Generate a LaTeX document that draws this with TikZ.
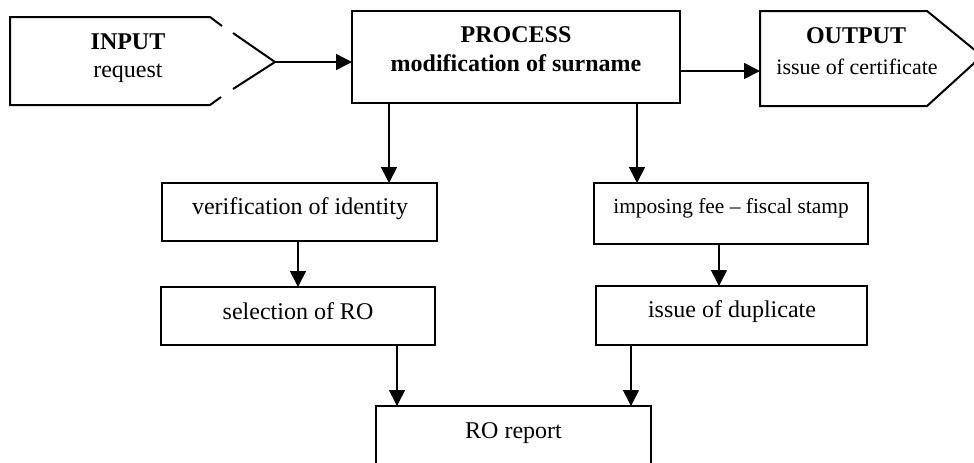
\documentclass[tikz,border=0pt]{standalone}
\usepackage{fontspec}
\setmainfont{Liberation Serif}
\usetikzlibrary{arrows.meta}
\begin{document}
\begin{tikzpicture}[x=0.5pt,y=-0.5pt,
  font=\fontsize{12}{14.5}\selectfont,
  box/.style={draw,line width=1pt,inner sep=0pt,outer sep=0pt,rectangle},
  txt/.style={anchor=base,inner sep=0pt},
  arr/.style={line width=0.8pt,-{Triangle[width=8pt,length=8pt]}},
  outline/.style={line width=1pt,line join=miter}]
\useasboundingbox (0,0) rectangle (974,462);
\clip (0,0) rectangle (974,462);
% INPUT shape (drawn with the gaps of the reference)
\draw[outline] (222,26) -- (210,17) -- (10,17) -- (10,105) -- (210,105) -- (221,97);
\draw[outline] (233,33) -- (275,62) -- (233,89);
\coordinate (intip) at (275,62);
\node[txt,font=\fontsize{12}{14.5}\selectfont\bfseries] (inT) at (128,49) {INPUT};
\node[txt] (inS) at (128,77) {request};
% PROCESS
\node[box,minimum width=164pt,minimum height=46pt] (proc) at (516,57) {};
\node[txt,font=\fontsize{12}{14.5}\selectfont\bfseries] (procT) at (516,42) {PROCESS};
\node[txt,font=\fontsize{12}{14.5}\selectfont\bfseries] (procS) at (516,71) {modification of surname};
% OUTPUT shape
\draw[outline] (760,11) -- (927,11) -- (982,56) -- (927,106) -- (760,106) -- cycle;
\coordinate (outL) at (760,71);
\node[txt,font=\fontsize{12}{14.5}\selectfont\bfseries] (outT) at (856,43) {OUTPUT};
\node[txt,font=\fontsize{11}{13}\selectfont] (outS) at (857,74) {issue of certificate};
% second level
\node[box,minimum width=137.5pt,minimum height=29pt] (ver) at (299.5,212) {};
\node[txt] (verT) at (300,214) {verification of identity};
\node[box,minimum width=137pt,minimum height=30.5pt] (imp) at (731,213.5) {};
\node[txt,font=\fontsize{10.7}{13}\selectfont] (impT) at (731,213) {imposing fee – fiscal stamp};
% third level
\node[box,minimum width=137pt,minimum height=29pt] (sel) at (298,316) {};
\node[txt] (selT) at (298,319) {selection of RO};
\node[box,minimum width=135.5pt,minimum height=29.5pt] (dup) at (731.5,315.5) {};
\node[txt] (dupT) at (732,317) {issue of duplicate};
% RO report
\node[box,minimum width=137.5pt,minimum height=32pt] (ro) at (513.5,438) {};
\node[txt] (roT) at (513.5,438) {RO report};
% x positions of vertical connectors
\coordinate (xa) at (389,0);
\coordinate (xb) at (637,0);
\coordinate (xc) at (298,0);
\coordinate (xd) at (719,0);
\coordinate (xe) at (397,0);
\coordinate (xf) at (631,0);
% connectors
\draw[arr] (intip) -- (proc.west |- intip);
\draw[arr] (proc.east |- outL) -- (outL);
\draw[arr] (proc.south -| xa) -- (ver.north -| xa);
\draw[arr] (proc.south -| xb) -- (imp.north -| xb);
\draw[arr] (ver.south -| xc) -- (sel.north -| xc);
\draw[arr] (imp.south -| xd) -- (dup.north -| xd);
\draw[arr] (sel.south -| xe) -- (ro.north -| xe);
\draw[arr] (dup.south -| xf) -- (ro.north -| xf);
\end{tikzpicture}
\end{document}
